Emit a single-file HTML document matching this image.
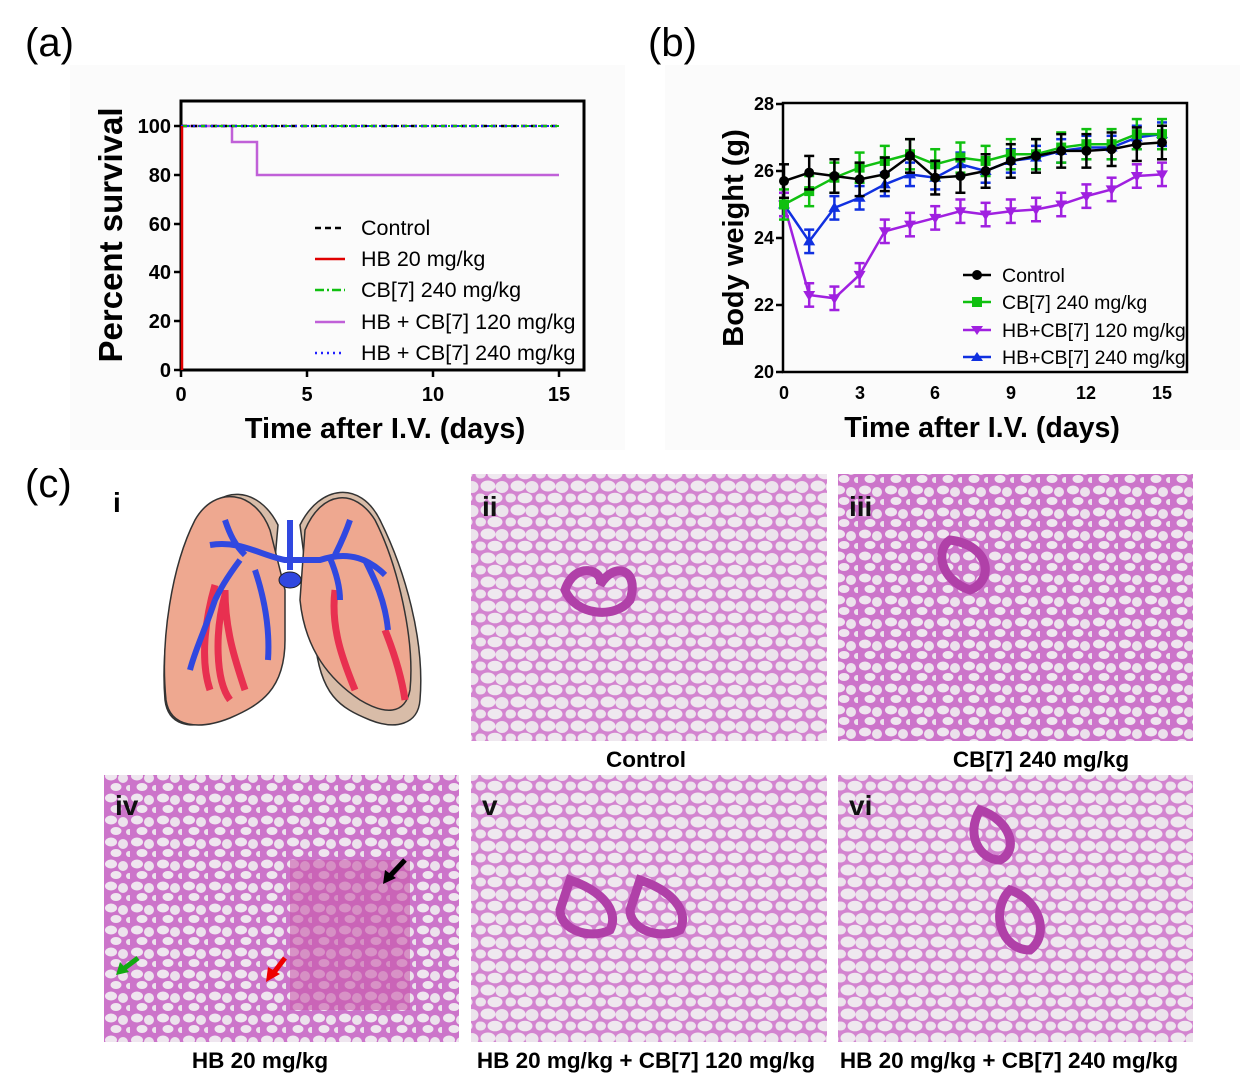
<!DOCTYPE html>
<html><head><meta charset="utf-8"><style>
html,body{margin:0;padding:0;background:#fff;}
svg{display:block;font-family:"Liberation Sans",Arial,sans-serif;}
</style></head><body>
<svg id="s" width="1242" height="1087" viewBox="0 0 1242 1087" xmlns="http://www.w3.org/2000/svg">
<defs>
<pattern id="tis" width="30" height="24" patternUnits="userSpaceOnUse">
<rect width="30" height="24" fill="#d384d0"/>
<ellipse cx="8" cy="6" rx="7.5" ry="5.5" fill="#efe8ef"/>
<ellipse cx="22" cy="7" rx="6.5" ry="6" fill="#ece4ec"/>
<ellipse cx="15" cy="18" rx="7.5" ry="5.3" fill="#efe8ef"/>
<ellipse cx="1" cy="18" rx="5" ry="4.5" fill="#ece4ec"/>
<ellipse cx="29.5" cy="18" rx="4" ry="4.5" fill="#ece4ec"/>
</pattern>
<pattern id="tis2" width="26" height="22" patternUnits="userSpaceOnUse">
<rect width="26" height="22" fill="#cc74ca"/>
<ellipse cx="7" cy="6" rx="6" ry="4.5" fill="#efe6ef"/>
<ellipse cx="19" cy="8" rx="5" ry="5" fill="#ece2ec"/>
<ellipse cx="12" cy="17" rx="5.5" ry="4" fill="#efe6ef"/>
<ellipse cx="25" cy="18" rx="3" ry="3" fill="#ece2ec"/>
</pattern>
</defs>
<rect width="1242" height="1087" fill="#fff"/>
<rect x="70" y="65" width="555" height="385" fill="#fbfbfb"/>
<rect x="665" y="65" width="575" height="385" fill="#fbfbfb"/>
<text x="25" y="56" font-size="40">(a)</text>
<text x="648" y="56" font-size="40">(b)</text>
<text x="25" y="497" font-size="40">(c)</text>

<g id="pa">
<rect x="181" y="101" width="403" height="269" fill="none" stroke="#000" stroke-width="3"/>
<g stroke="#000" stroke-width="2.5">
<line x1="174" y1="126" x2="181" y2="126"/><line x1="174" y1="175" x2="181" y2="175"/>
<line x1="174" y1="224" x2="181" y2="224"/><line x1="174" y1="272" x2="181" y2="272"/>
<line x1="174" y1="321" x2="181" y2="321"/><line x1="174" y1="370" x2="181" y2="370"/>
<line x1="181" y1="370" x2="181" y2="377"/><line x1="307" y1="370" x2="307" y2="377"/>
<line x1="433" y1="370" x2="433" y2="377"/><line x1="559" y1="370" x2="559" y2="377"/>
</g>
<g font-size="20" font-weight="bold" text-anchor="end">
<text x="171" y="133">100</text><text x="171" y="182">80</text><text x="171" y="231">60</text>
<text x="171" y="279">40</text><text x="171" y="328">20</text><text x="171" y="377">0</text>
</g>
<g font-size="20" font-weight="bold" text-anchor="middle">
<text x="181" y="401">0</text><text x="307" y="401">5</text><text x="433" y="401">10</text><text x="559" y="401">15</text>
</g>
<text x="385" y="438" font-size="29" font-weight="bold" text-anchor="middle">Time after I.V. (days)</text>
<text transform="translate(122,235) rotate(-90)" font-size="33" font-weight="bold" text-anchor="middle">Percent survival</text>
<polyline points="181,126 232,126 232,142 257,142 257,175 559,175" fill="none" stroke="#c060d8" stroke-width="2.5"/>
<line x1="181" y1="126" x2="559" y2="126" stroke="#000" stroke-width="2.5" stroke-dasharray="6,4"/>
<line x1="181" y1="126" x2="559" y2="126" stroke="#10c010" stroke-width="2" stroke-dasharray="9,3,2,3"/>
<line x1="181" y1="126" x2="559" y2="126" stroke="#2020ff" stroke-width="2" stroke-dasharray="2,4"/>
<line x1="182" y1="126" x2="182" y2="370" stroke="#e00000" stroke-width="2.5"/>
<g stroke-width="2.5">
<line x1="315" y1="228" x2="345" y2="228" stroke="#000" stroke-dasharray="6,4"/>
<line x1="315" y1="259" x2="345" y2="259" stroke="#e00000"/>
<line x1="315" y1="290" x2="345" y2="290" stroke="#10c010" stroke-dasharray="9,3,2,3"/>
<line x1="315" y1="322" x2="345" y2="322" stroke="#c060d8"/>
<line x1="315" y1="353" x2="345" y2="353" stroke="#2020ff" stroke-dasharray="2,4"/>
</g>
<g font-size="21.5">
<text x="361" y="235">Control</text><text x="361" y="266">HB 20 mg/kg</text>
<text x="361" y="297">CB[7] 240 mg/kg</text><text x="361" y="329">HB + CB[7] 120 mg/kg</text>
<text x="361" y="360">HB + CB[7] 240 mg/kg</text>
</g>
</g>

<g id="pb">
<rect x="783" y="103" width="404" height="269" fill="none" stroke="#000" stroke-width="2.5"/>
<g stroke="#000" stroke-width="2.5">
<line x1="776" y1="104" x2="783" y2="104"/><line x1="776" y1="171" x2="783" y2="171"/>
<line x1="776" y1="238" x2="783" y2="238"/><line x1="776" y1="305" x2="783" y2="305"/>
<line x1="776" y1="372" x2="783" y2="372"/>
</g>
<g font-size="18" font-weight="bold" text-anchor="end">
<text x="774" y="110">28</text><text x="774" y="177">26</text><text x="774" y="244">24</text>
<text x="774" y="311">22</text><text x="774" y="378">20</text>
</g>
<g font-size="18" font-weight="bold" text-anchor="middle">
<text x="784" y="399">0</text><text x="860" y="399">3</text><text x="935" y="399">6</text>
<text x="1011" y="399">9</text><text x="1086" y="399">12</text><text x="1162" y="399">15</text>
</g>
<text x="982" y="437" font-size="28.5" font-weight="bold" text-anchor="middle">Time after I.V. (days)</text>
<text transform="translate(743,238) rotate(-90)" font-size="29" font-weight="bold" text-anchor="middle">Body weight (g)</text>
<g id="series"></g>
<g font-size="19.5">
<text x="1002" y="282">Control</text><text x="1002" y="309">CB[7] 240 mg/kg</text>
<text x="1002" y="337">HB+CB[7] 120 mg/kg</text><text x="1002" y="364">HB+CB[7] 240 mg/kg</text>
</g>
<g stroke-width="2.5">
<line x1="963" y1="275" x2="991" y2="275" stroke="#000"/><circle cx="977" cy="275" r="5" fill="#000"/>
<line x1="963" y1="302" x2="991" y2="302" stroke="#10c010"/><rect x="972" y="297" width="10" height="10" fill="#10c010"/>
<line x1="963" y1="330" x2="991" y2="330" stroke="#a020e0"/><polygon points="971,326 983,326 977,335" fill="#a020e0"/>
<line x1="963" y1="357" x2="991" y2="357" stroke="#1030e0"/><polygon points="971,361 983,361 977,352" fill="#1030e0"/>
</g>
</g>

<g id="lung">
<path d="M300,525 C320,485 360,480 380,520 C405,570 425,640 420,700 C418,725 395,730 370,720 C340,708 320,695 315,640 Z" fill="#d8bca8" stroke="#333" stroke-width="1.5"/>
<path d="M278,525 C258,485 218,485 200,520 C175,570 160,640 165,700 C168,725 190,730 215,720 C245,708 262,680 268,640 Z" fill="#d8bca8" stroke="#333" stroke-width="1.5"/>
<path d="M270,530 C255,490 215,485 195,520 C172,565 160,640 166,700 C170,728 200,730 230,718 C260,705 285,690 285,640 L285,590 Z" fill="#eea890" stroke="#333" stroke-width="1.5"/>
<path d="M305,530 C322,490 355,488 375,520 C398,565 415,640 410,690 C405,715 385,715 360,700 C330,680 305,650 300,600 Z" fill="#eea890" stroke="#333" stroke-width="1.5"/>
<path d="M215,585 C205,620 200,660 210,690 M225,590 C225,630 235,660 245,690 M225,595 C215,630 215,680 230,700" stroke="#e83050" stroke-width="7" fill="none"/>
<path d="M335,590 C330,630 345,665 355,690 M385,630 C395,655 402,680 405,700" stroke="#e83050" stroke-width="7" fill="none"/>
<path d="M290,520 L290,570 M210,545 C240,540 260,555 285,560 L320,560 C350,550 370,560 385,575 M240,560 C225,580 220,590 215,600 M225,520 C230,535 235,545 245,555 M330,558 C335,570 340,585 340,600 M365,560 C375,580 385,600 388,630 M350,520 C345,535 340,545 335,555 M255,570 C265,600 270,630 268,660 M215,600 C205,630 195,650 190,670" stroke="#3048e0" stroke-width="6" fill="none"/>
<ellipse cx="290" cy="580" rx="11" ry="8" fill="#3048e0" stroke="#222"/>
</g>
<text x="113" y="512" font-size="28" font-weight="bold">i</text>

<rect x="471" y="474" width="356" height="267" fill="url(#tis)"/>
<rect x="838" y="474" width="355" height="267" fill="url(#tis2)"/>
<rect x="104" y="775" width="355" height="267" fill="url(#tis2)"/>
<rect x="471" y="775" width="356" height="267" fill="url(#tis)"/>
<rect x="838" y="775" width="355" height="267" fill="url(#tis)"/>
<rect x="290" y="860" width="120" height="150" fill="#c85aaa" opacity="0.6"/>
<g fill="none" stroke="#b040a8" stroke-width="9">
<path d="M565,590 C575,560 605,570 600,585 C615,560 640,570 630,600 C615,620 575,615 565,590 Z"/>
<path d="M950,540 C990,545 995,580 970,590 C940,580 935,550 950,540 Z"/>
<path d="M570,880 C600,890 620,910 610,930 C590,940 560,930 560,910 Z M640,880 C670,890 690,910 680,930 C660,940 630,930 630,910 Z"/>
<path d="M980,810 C1010,820 1020,850 1000,860 C980,860 965,835 980,810 Z M1010,890 C1040,900 1050,935 1030,950 C1000,950 990,910 1010,890 Z"/>
</g>
<g font-size="28" font-weight="bold" fill="#111">
<text x="482" y="516">ii</text><text x="849" y="516">iii</text><text x="115" y="815">iv</text>
<text x="482" y="815">v</text><text x="849" y="815">vi</text>
</g>
<g font-size="22.5" font-weight="bold" text-anchor="middle">
<text x="646" y="767">Control</text><text x="1041" y="767">CB[7] 240 mg/kg</text>
<text x="260" y="1068">HB 20 mg/kg</text><text x="646" y="1068">HB 20 mg/kg + CB[7] 120 mg/kg</text>
<text x="1009" y="1068">HB 20 mg/kg + CB[7] 240 mg/kg</text>
</g>
<path d="M405,860 L388,878" stroke="#000" stroke-width="5"/><polygon points="383,884 385,870 396,878" fill="#000"/>
<path d="M285,958 L272,975" stroke="#e00" stroke-width="5"/><polygon points="266,982 268,967 280,974" fill="#e00"/>
<path d="M138,958 L122,970" stroke="#1a1" stroke-width="5"/><polygon points="116,975 120,962 129,972" fill="#1a1"/>
</svg>
<script>
var g=document.getElementById('series'),NS='http://www.w3.org/2000/svg';
function X(i){return 784+i*25.2}function Y(v){return 372-(v-20)*33.5}
var S=[
{c:'#1030e0',m:'tu',d:[25,23.9,24.9,25.2,25.6,25.9,25.8,26.2,26,26.3,26.4,26.6,26.7,26.7,27,27.1],e:.35},
{c:'#a020e0',m:'td',d:[25,22.3,22.2,22.9,24.2,24.4,24.6,24.8,24.7,24.8,24.85,25,25.25,25.45,25.85,25.9],e:.35},
{c:'#10c010',m:'sq',d:[25,25.4,25.8,26.1,26.3,26.5,26.2,26.4,26.3,26.5,26.5,26.7,26.8,26.8,27.1,27.1],e:.45},
{c:'#000',m:'ci',d:[25.7,25.95,25.85,25.75,25.9,26.45,25.8,25.85,26,26.3,26.45,26.6,26.6,26.65,26.8,26.85],e:.5}];
function el(n,a){var e=document.createElementNS(NS,n);for(var k in a)e.setAttribute(k,a[k]);g.appendChild(e);return e}
S.forEach(function(s){
 el('polyline',{points:s.d.map(function(v,i){return X(i)+','+Y(v)}).join(' '),fill:'none',stroke:s.c,'stroke-width':2.5});
 s.d.forEach(function(v,i){var x=X(i),y=Y(v),e=s.e*33.5;
  el('line',{x1:x,y1:y-e,x2:x,y2:y+e,stroke:s.c,'stroke-width':2.5});
  el('line',{x1:x-5,y1:y-e,x2:x+5,y2:y-e,stroke:s.c,'stroke-width':2.5});
  el('line',{x1:x-5,y1:y+e,x2:x+5,y2:y+e,stroke:s.c,'stroke-width':2.5});
  if(s.m=='ci')el('circle',{cx:x,cy:y,r:5,fill:s.c});
  else if(s.m=='sq')el('rect',{x:x-5,y:y-5,width:10,height:10,fill:s.c});
  else if(s.m=='td')el('polygon',{points:(x-6)+','+(y-4)+' '+(x+6)+','+(y-4)+' '+x+','+(y+6),fill:s.c});
  else el('polygon',{points:(x-6)+','+(y+4)+' '+(x+6)+','+(y+4)+' '+x+','+(y-6),fill:s.c});
 });
});
</script>
</body></html>
